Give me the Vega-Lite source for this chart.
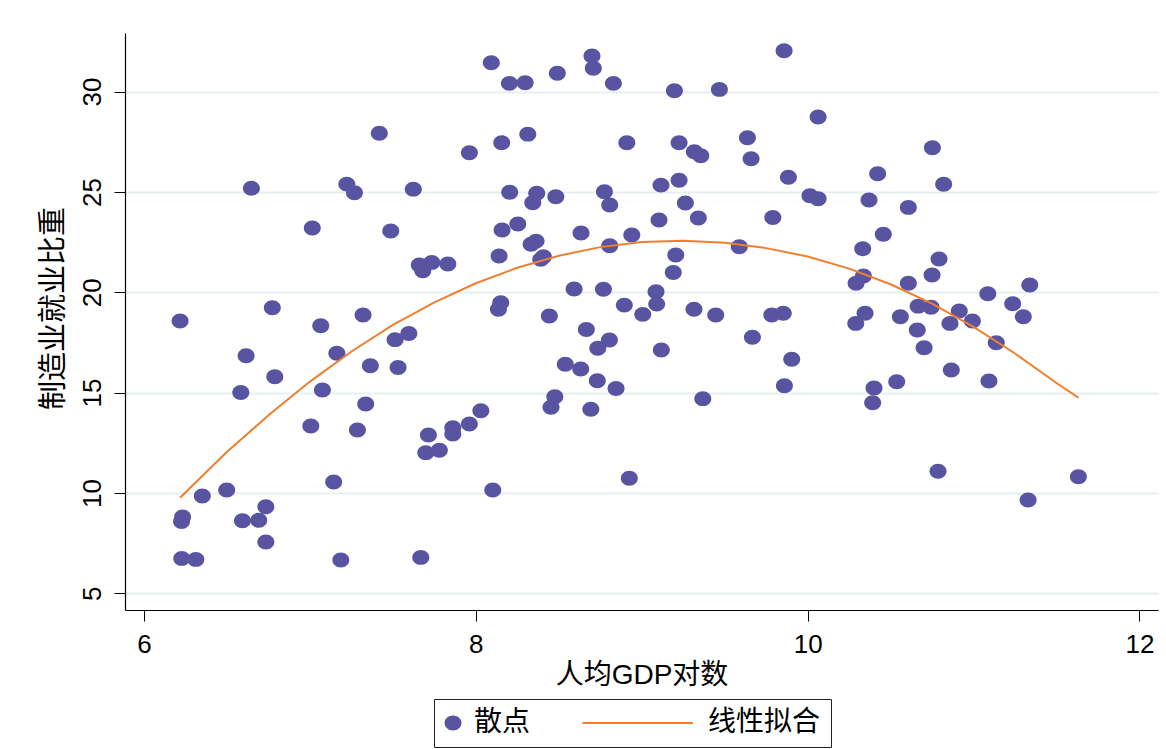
{
  "$schema": "https://vega.github.io/schema/vega-lite/v6.json",
  "width": 1033,
  "height": 577,
  "autosize": {"type": "none"},
  "padding": {"left": 125, "top": 33, "right": 8, "bottom": 139},
  "background": "white",
  "datasets": {
    "scatter": [
      {"lngdp": 6.217, "manu": 18.57}, {"lngdp": 6.773, "manu": 19.23}, {"lngdp": 6.615, "manu": 16.84},
      {"lngdp": 6.788, "manu": 15.79}, {"lngdp": 6.583, "manu": 15.01}, {"lngdp": 7.065, "manu": 18.33},
      {"lngdp": 7.320, "manu": 18.87}, {"lngdp": 7.162, "manu": 16.96}, {"lngdp": 7.364, "manu": 16.34},
      {"lngdp": 7.513, "manu": 17.64}, {"lngdp": 7.531, "manu": 16.25}, {"lngdp": 7.075, "manu": 15.13},
      {"lngdp": 7.336, "manu": 14.43}, {"lngdp": 7.005, "manu": 13.34}, {"lngdp": 7.286, "manu": 13.14},
      {"lngdp": 7.143, "manu": 10.55}, {"lngdp": 6.351, "manu": 9.85}, {"lngdp": 6.498, "manu": 10.15},
      {"lngdp": 6.232, "manu": 8.80}, {"lngdp": 6.226, "manu": 8.58}, {"lngdp": 6.593, "manu": 8.62},
      {"lngdp": 6.691, "manu": 8.64}, {"lngdp": 6.734, "manu": 9.31}, {"lngdp": 6.734, "manu": 7.56},
      {"lngdp": 6.227, "manu": 6.74}, {"lngdp": 6.312, "manu": 6.69}, {"lngdp": 7.186, "manu": 6.66},
      {"lngdp": 6.647, "manu": 25.18}, {"lngdp": 7.222, "manu": 25.39}, {"lngdp": 7.268, "manu": 24.96},
      {"lngdp": 7.418, "manu": 27.92}, {"lngdp": 7.014, "manu": 23.20}, {"lngdp": 7.487, "manu": 23.05},
      {"lngdp": 8.093, "manu": 31.44}, {"lngdp": 8.202, "manu": 30.41}, {"lngdp": 8.297, "manu": 30.44},
      {"lngdp": 8.491, "manu": 30.91}, {"lngdp": 8.700, "manu": 31.77}, {"lngdp": 8.708, "manu": 31.16},
      {"lngdp": 8.829, "manu": 30.41}, {"lngdp": 9.197, "manu": 30.04}, {"lngdp": 9.468, "manu": 30.11},
      {"lngdp": 9.858, "manu": 32.04}, {"lngdp": 8.313, "manu": 27.88}, {"lngdp": 8.156, "manu": 27.45},
      {"lngdp": 7.961, "manu": 26.95}, {"lngdp": 8.910, "manu": 27.45}, {"lngdp": 9.225, "manu": 27.45},
      {"lngdp": 9.317, "manu": 27.00}, {"lngdp": 9.356, "manu": 26.80}, {"lngdp": 9.637, "manu": 27.70},
      {"lngdp": 9.659, "manu": 26.65}, {"lngdp": 7.623, "manu": 25.14}, {"lngdp": 8.204, "manu": 24.98},
      {"lngdp": 8.367, "manu": 24.93}, {"lngdp": 8.343, "manu": 24.46}, {"lngdp": 8.482, "manu": 24.76},
      {"lngdp": 8.775, "manu": 25.01}, {"lngdp": 8.807, "manu": 24.35}, {"lngdp": 9.116, "manu": 25.34},
      {"lngdp": 9.225, "manu": 25.58}, {"lngdp": 9.263, "manu": 24.45}, {"lngdp": 9.341, "manu": 23.70},
      {"lngdp": 9.104, "manu": 23.60}, {"lngdp": 9.790, "manu": 23.73}, {"lngdp": 8.158, "manu": 23.10},
      {"lngdp": 8.253, "manu": 23.40}, {"lngdp": 8.333, "manu": 22.39}, {"lngdp": 8.363, "manu": 22.55},
      {"lngdp": 8.634, "manu": 22.95}, {"lngdp": 8.940, "manu": 22.85}, {"lngdp": 8.807, "manu": 22.32},
      {"lngdp": 8.140, "manu": 21.81}, {"lngdp": 8.391, "manu": 21.64}, {"lngdp": 8.407, "manu": 21.77},
      {"lngdp": 7.659, "manu": 21.36}, {"lngdp": 7.680, "manu": 21.07}, {"lngdp": 7.734, "manu": 21.49},
      {"lngdp": 7.831, "manu": 21.41}, {"lngdp": 9.205, "manu": 21.86}, {"lngdp": 9.190, "manu": 20.99},
      {"lngdp": 9.588, "manu": 22.27}, {"lngdp": 8.592, "manu": 20.16}, {"lngdp": 8.769, "manu": 20.15},
      {"lngdp": 9.086, "manu": 20.03}, {"lngdp": 9.090, "manu": 19.41}, {"lngdp": 8.895, "manu": 19.36},
      {"lngdp": 9.315, "manu": 19.15}, {"lngdp": 9.446, "manu": 18.87}, {"lngdp": 9.006, "manu": 18.90},
      {"lngdp": 8.150, "manu": 19.48}, {"lngdp": 8.136, "manu": 19.15}, {"lngdp": 8.443, "manu": 18.82},
      {"lngdp": 9.784, "manu": 18.87}, {"lngdp": 7.596, "manu": 17.95}, {"lngdp": 8.666, "manu": 18.15},
      {"lngdp": 8.805, "manu": 17.62}, {"lngdp": 8.735, "manu": 17.21}, {"lngdp": 9.118, "manu": 17.12},
      {"lngdp": 9.667, "manu": 17.76}, {"lngdp": 8.539, "manu": 16.41}, {"lngdp": 8.632, "manu": 16.18},
      {"lngdp": 8.732, "manu": 15.59}, {"lngdp": 8.845, "manu": 15.21}, {"lngdp": 9.860, "manu": 15.34},
      {"lngdp": 8.476, "manu": 14.80}, {"lngdp": 8.453, "manu": 14.27}, {"lngdp": 8.693, "manu": 14.17},
      {"lngdp": 9.368, "manu": 14.70}, {"lngdp": 8.030, "manu": 14.10}, {"lngdp": 7.961, "manu": 13.44},
      {"lngdp": 7.861, "manu": 13.25}, {"lngdp": 7.861, "manu": 12.94}, {"lngdp": 7.714, "manu": 12.89},
      {"lngdp": 7.698, "manu": 12.01}, {"lngdp": 7.780, "manu": 12.13}, {"lngdp": 8.102, "manu": 10.15},
      {"lngdp": 8.925, "manu": 10.73}, {"lngdp": 7.668, "manu": 6.79}, {"lngdp": 10.063, "manu": 28.73},
      {"lngdp": 10.752, "manu": 27.20}, {"lngdp": 9.884, "manu": 25.73}, {"lngdp": 10.422, "manu": 25.91},
      {"lngdp": 10.820, "manu": 25.38}, {"lngdp": 10.014, "manu": 24.81}, {"lngdp": 10.063, "manu": 24.66},
      {"lngdp": 10.370, "manu": 24.60}, {"lngdp": 10.607, "manu": 24.23}, {"lngdp": 10.456, "manu": 22.89},
      {"lngdp": 10.332, "manu": 22.17}, {"lngdp": 10.792, "manu": 21.66}, {"lngdp": 10.336, "manu": 20.81},
      {"lngdp": 10.292, "manu": 20.45}, {"lngdp": 10.750, "manu": 20.86}, {"lngdp": 10.607, "manu": 20.45},
      {"lngdp": 11.086, "manu": 19.93}, {"lngdp": 11.339, "manu": 20.36}, {"lngdp": 11.236, "manu": 19.43},
      {"lngdp": 10.666, "manu": 19.31}, {"lngdp": 10.744, "manu": 19.25}, {"lngdp": 10.914, "manu": 19.07},
      {"lngdp": 9.853, "manu": 18.95}, {"lngdp": 10.346, "manu": 18.95}, {"lngdp": 10.559, "manu": 18.78},
      {"lngdp": 10.290, "manu": 18.45}, {"lngdp": 10.858, "manu": 18.45}, {"lngdp": 10.993, "manu": 18.57},
      {"lngdp": 11.300, "manu": 18.78}, {"lngdp": 10.661, "manu": 18.12}, {"lngdp": 10.702, "manu": 17.24},
      {"lngdp": 11.137, "manu": 17.49}, {"lngdp": 9.904, "manu": 16.66}, {"lngdp": 10.400, "manu": 15.23},
      {"lngdp": 10.392, "manu": 14.50}, {"lngdp": 10.537, "manu": 15.54}, {"lngdp": 10.866, "manu": 16.13},
      {"lngdp": 11.093, "manu": 15.58}, {"lngdp": 10.786, "manu": 11.08}, {"lngdp": 11.632, "manu": 10.81},
      {"lngdp": 11.329, "manu": 9.65}
    ],
    "fit": [
      {"lngdp": 6.217, "manu": 9.76}, {"lngdp": 6.5, "manu": 12.05}, {"lngdp": 6.75, "manu": 13.87},
      {"lngdp": 7.0, "manu": 15.55}, {"lngdp": 7.25, "manu": 17.05}, {"lngdp": 7.5, "manu": 18.38},
      {"lngdp": 7.75, "manu": 19.50}, {"lngdp": 8.0, "manu": 20.45}, {"lngdp": 8.25, "manu": 21.22},
      {"lngdp": 8.5, "manu": 21.82}, {"lngdp": 8.75, "manu": 22.25}, {"lngdp": 9.0, "manu": 22.50},
      {"lngdp": 9.25, "manu": 22.57}, {"lngdp": 9.5, "manu": 22.47}, {"lngdp": 9.75, "manu": 22.20},
      {"lngdp": 10.0, "manu": 21.78}, {"lngdp": 10.25, "manu": 21.18}, {"lngdp": 10.5, "manu": 20.40},
      {"lngdp": 10.75, "manu": 19.44}, {"lngdp": 11.0, "manu": 18.28}, {"lngdp": 11.25, "manu": 16.95},
      {"lngdp": 11.5, "manu": 15.48}, {"lngdp": 11.632, "manu": 14.75}
    ]
  },
  "encoding": {
    "x": {
      "field": "lngdp",
      "type": "quantitative",
      "scale": {"domain": [5.885, 12.112], "nice": false, "zero": false},
      "axis": {
        "values": [6, 8, 10, 12],
        "title": "人均GDP对数",
        "grid": false,
        "tickSize": 11,
        "tickColor": "#000",
        "domainColor": "#000",
        "domainWidth": 1.2,
        "labelFlush": false,
        "labelBaseline": "alphabetic",
        "labelPadding": 31,
        "labelFontSize": 26,
        "labelFont": "Liberation Sans",
        "labelColor": "#000",
        "titleFont": "Liberation Sans, Noto Sans CJK SC",
        "titleFontSize": 28,
        "titleFontWeight": "normal",
        "titleColor": "#000",
        "titleBaseline": "alphabetic",
        "titleY": 73
      }
    },
    "y": {
      "field": "manu",
      "type": "quantitative",
      "scale": {"domain": [4.168, 32.92], "nice": false, "zero": false},
      "axis": {
        "values": [5, 10, 15, 20, 25, 30],
        "title": "制造业就业比重",
        "grid": true,
        "gridColor": "#e6eff2",
        "gridWidth": 2,
        "tickSize": 11,
        "tickColor": "#000",
        "domainColor": "#000",
        "domainWidth": 1.2,
        "labelAngle": 270,
        "labelAlign": "center",
        "labelBaseline": "alphabetic",
        "labelPadding": 14,
        "labelFontSize": 26,
        "labelFont": "Liberation Sans",
        "labelColor": "#000",
        "titleAngle": 270,
        "titleAlign": "center",
        "titleBaseline": "middle",
        "titleX": -72,
        "titleY": 275,
        "titleFont": "Noto Sans CJK SC",
        "titleFontSize": 29,
        "titleFontWeight": "normal",
        "titleColor": "#000"
      }
    }
  },
  "layer": [
    {
      "data": {"name": "scatter"},
      "mark": {"type": "point", "filled": true, "opacity": 1, "size": 289},
      "encoding": {
        "color": {
          "datum": "散点",
          "scale": {"domain": ["散点", "线性拟合"], "range": ["#5954a1", "#ef7f2f"]},
          "legend": {
            "orient": "none",
            "legendX": 309,
            "legendY": 666,
            "direction": "horizontal",
            "title": null,
            "padding": 10,
            "strokeColor": "#222",
            "fillColor": "#fff",
            "symbolSize": 289,
            "symbolStrokeColor": "#ef7f2f",
            "symbolOffset": -5,
            "labelFont": "Noto Sans CJK SC",
            "labelFontSize": 28,
            "labelColor": "#000",
            "labelOffset": 7,
            "labelLimit": 300,
            "columnPadding": 47
          }
        },
        "shape": {
          "datum": "散点",
          "scale": {
            "domain": ["散点", "线性拟合"],
            "range": ["M-1,0A1,0.88,0,1,0,1,0A1,0.88,0,1,0,-1,0Z", "M-12.3,0H0.7"]
          },
          "legend": {"orient": "none", "title": null}
        },
        "strokeWidth": {
          "datum": "散点",
          "scale": {"type": "ordinal", "domain": ["散点", "线性拟合"], "range": [0, 2]},
          "legend": {"orient": "none", "title": null}
        }
      }
    },
    {
      "data": {"name": "fit"},
      "mark": {"type": "line", "color": "#ef7f2f", "strokeWidth": 2}
    }
  ],
  "config": {
    "view": {"stroke": null}
  }
}
